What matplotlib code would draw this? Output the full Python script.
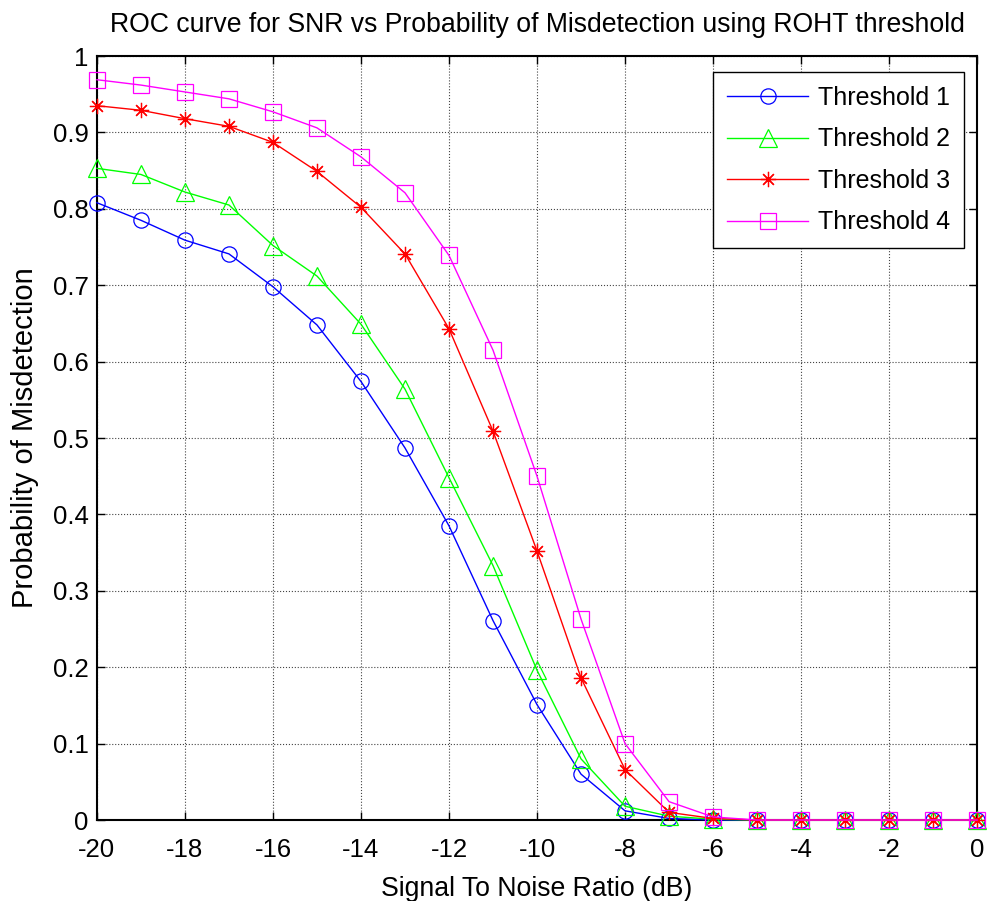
import matplotlib
matplotlib.use("Agg")
import matplotlib.pyplot as plt
import numpy as np

plt.rcParams['font.family'] = ['Liberation Sans', 'DejaVu Sans']

snr = list(range(-20, 1))
th1 = [0.808, 0.785, 0.759, 0.741, 0.698, 0.648, 0.574, 0.487, 0.385, 0.261, 0.151,
       0.060, 0.012, 0.002, 0.0, 0.0, 0.0, 0.0, 0.0, 0.0, 0.0]
th2 = [0.853, 0.845, 0.822, 0.805, 0.752, 0.712, 0.649, 0.564, 0.448, 0.333, 0.196,
       0.080, 0.018, 0.005, 0.001, 0.0, 0.0, 0.0, 0.0, 0.0, 0.0]
th3 = [0.935, 0.929, 0.918, 0.908, 0.887, 0.849, 0.802, 0.741, 0.643, 0.509, 0.352,
       0.186, 0.066, 0.010, 0.002, 0.0, 0.0, 0.0, 0.0, 0.0, 0.0]
th4 = [0.969, 0.962, 0.953, 0.944, 0.927, 0.906, 0.868, 0.821, 0.739, 0.615, 0.450,
       0.263, 0.100, 0.024, 0.004, 0.0, 0.0, 0.0, 0.0, 0.0, 0.0]
labels = ['Threshold 1', 'Threshold 2', 'Threshold 3', 'Threshold 4']
colors = ['#0000ff', '#00ff00', '#ff0000', '#ff00ff']
markers = ['o', '^', (8, 2, 0), 's']
msizes = [11, 13, 11, 12]

fig = plt.figure(figsize=(9.89, 9.01), dpi=100)
ax = fig.add_axes([0.098, 0.0899, 0.89, 0.8479])

for y, lab, c, m, ms in zip([th1, th2, th3, th4], labels, colors, markers, msizes):
    ax.plot(snr, y, color=c, lw=1.0, marker=m, markersize=ms,
            markerfacecolor='none', markeredgecolor=c, markeredgewidth=0.9,
            label=lab, clip_on=False, zorder=3)

ax.set_xlim(-20, 0)
ax.set_ylim(0, 1)
ax.set_xticks(np.arange(-20, 1, 2))
ax.set_yticks(np.arange(0, 1.01, 0.1))
ax.set_xticklabels([f"{v:d}" for v in range(-20, 1, 2)])
ax.set_yticklabels(['0'] + [f"{v:.1f}" for v in np.arange(0.1, 0.95, 0.1)] + ['1'])
ax.tick_params(direction='in', length=6, width=1, top=True, right=True,
               labelsize=18.5)
ax.tick_params(axis='x', pad=13)
ax.tick_params(axis='y', pad=6)
ax.grid(True, color='#444444', linestyle=':', linewidth=0.8)
for s in ax.spines.values():
    s.set_linewidth(1.5)
    s.set_color('black')

ax.set_title('ROC curve for SNR vs Probability of Misdetection using ROHT threshold',
             fontsize=19.2, pad=17)
ax.set_xlabel('Signal To Noise Ratio (dB)', fontsize=19.2, labelpad=10)
ax.set_ylabel('Probability of Misdetection', fontsize=21, labelpad=10)

leg = ax.legend(loc='upper right', bbox_to_anchor=(0.985, 0.979), borderaxespad=0,
                fontsize=18, fancybox=False, framealpha=1, edgecolor='black',
                handlelength=3.24, labelspacing=0.7, borderpad=0.55, handletextpad=0.4)
leg.get_frame().set_linewidth(1.0)

fig.savefig('out.png', dpi=100)
